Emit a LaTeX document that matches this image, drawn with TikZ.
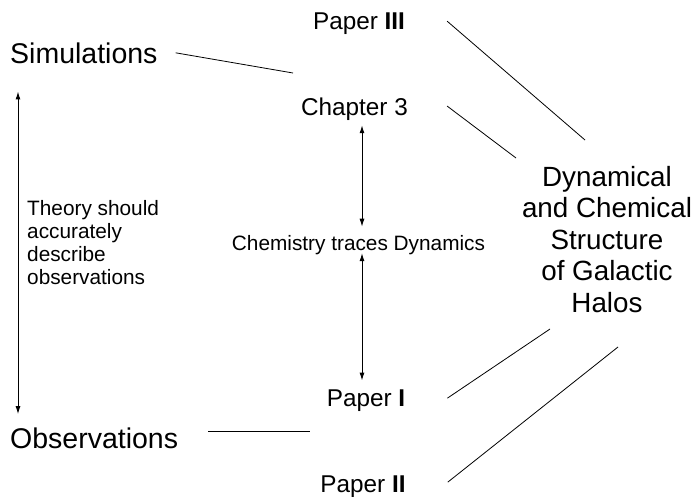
\documentclass[tikz,border=0pt]{standalone}
\usepackage{fontspec}
\setmainfont{Liberation Sans}
\usetikzlibrary{arrows.meta, positioning}

\tikzset{
  bigtext/.style={font=\fontsize{28.5}{31.5}\selectfont, inner sep=0pt},
  papertext/.style={font=\fontsize{24.3}{28}\selectfont, inner sep=0pt, anchor=base},
  smalltext/.style={font=\fontsize{20.8}{23}\selectfont, inner sep=0pt},
  link/.style={line width=0.8pt},
  twoway/.style={line width=1pt, {Latex[length=8pt,width=5pt]}-{Latex[length=8pt,width=5pt]}},
}

\begin{document}
\begin{tikzpicture}[x=1pt, y=-1pt]
    \useasboundingbox (0,0) rectangle (698,496);

    % Left column
    \node[bigtext, anchor=base west] (sim) at (10,63) {Simulations};
    \node[bigtext, anchor=base west] (obs) at (10,448) {Observations};
    \node[smalltext, anchor=north west, align=left] (theory) at (27,200)
        {Theory should\\accurately\\describe\\observations};

    % Middle column
    \node[papertext] (p3) at (359,29) {Paper \textbf{III}};
    \node[papertext] (ch3) at (354.5,115) {Chapter 3};
    \node[smalltext, anchor=base] (chem) at (358.5,250) {Chemistry traces Dynamics};
    \node[papertext] (p1) at (366,406) {Paper \textbf{I}};
    \node[papertext] (p2) at (363,492) {Paper \textbf{II}};

    % Right block
    \node[font=\fontsize{27.8}{31.5}\selectfont, inner sep=0pt, align=center, anchor=north]
        (halos) at (607,166) {Dynamical\\and Chemical\\Structure\\of Galactic\\Halos};

    % Loose ends of the lines
    \coordinate (simend) at (293,73);
    \coordinate (obsend) at (310,431);
    \coordinate (p3end) at (585,140);
    \coordinate (ch3end) at (516,158);
    \coordinate (p1end) at (550,329);
    \coordinate (p2end) at (618,347);

    % Lines
    \draw[link] ([xshift=18pt]sim.east) -- (simend);
    \draw[link] ([xshift=30pt]obs.east |- obsend) -- (obsend);
    \draw[link] ([xshift=42pt,yshift=2pt]p3.east) -- (p3end);
    \draw[link] ([xshift=39pt,yshift=2.7pt]ch3.east) -- (ch3end);
    \draw[link] ([xshift=42pt,yshift=2pt]p1.east) -- (p1end);
    \draw[link] ([xshift=42pt,yshift=4pt]p2.east) -- (p2end);

    % Arrows
    \draw[twoway, shorten <=28pt, shorten >=13pt]
        ([xshift=8pt]sim.south west) -- ([xshift=8pt]obs.north west);
    \draw[twoway] ([xshift=7.5pt,yshift=-5pt]ch3.south) -- ([xshift=3.5pt,yshift=8pt]chem.north);
    \draw[twoway] ([xshift=3.5pt,yshift=1.4pt]chem.south) -- ([xshift=-4pt,yshift=8.5pt]p1.north);
\end{tikzpicture}
\end{document}
